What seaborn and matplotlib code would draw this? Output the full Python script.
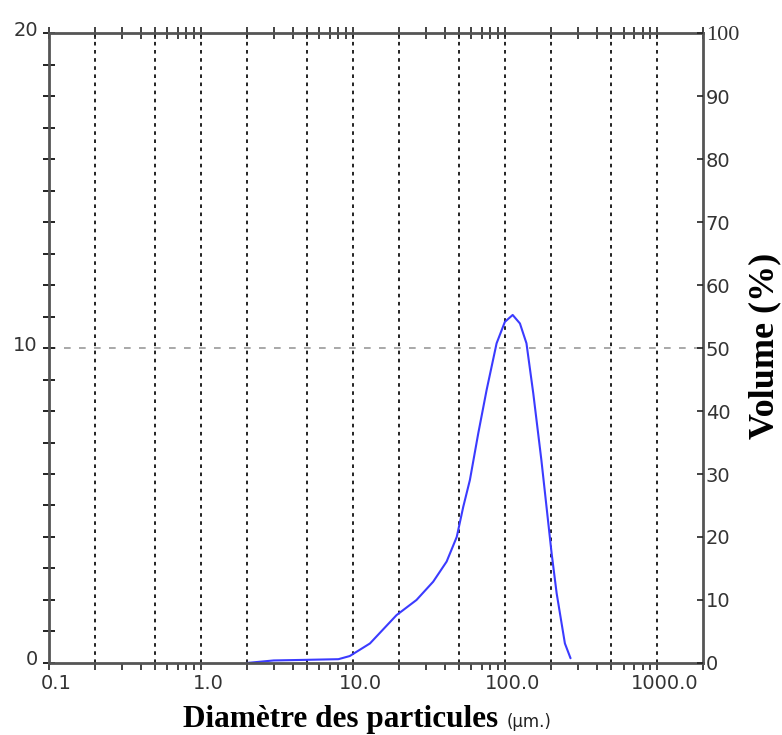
"""
Granulométrie laser — distribution en volume
"""

import matplotlib
matplotlib.use('Agg')

import matplotlib.pyplot as plt
import matplotlib.transforms as mtransforms
import pandas as pd
import seaborn as sns
from matplotlib.ticker import (FixedFormatter, FixedLocator, LogLocator,
                               MultipleLocator, NullFormatter)


# ── Data ─────────────────────────────────────────────────────────────────────

SIZE_UM = [2.0, 3.0, 5.0, 8.0, 9.5, 12.9, 19.3, 26.1, 33.6, 41.2, 48.0, 53.0,
           58.6, 66.5, 75.5, 87.8, 99.5, 112.0, 125.0, 138.0, 153.0, 173.0,
           202.0, 218.0, 247.0, 269.0]
VOLUME = [0.0, 0.08, 0.1, 0.12, 0.22, 0.62, 1.52, 2.0, 2.58, 3.22, 4.0, 4.96,
          5.81, 7.29, 8.67, 10.15, 10.83, 11.05, 10.78, 10.15, 8.56, 6.44,
          3.48, 2.21, 0.62, 0.15]

X_TICKS = [0.1, 1, 10, 100, 1000]
X_LABELS = ['0.1', '1.0', '10.0', '100.0', '1000.0']
GRID_X = [0.2, 0.5, 1, 2, 5, 10, 20, 50, 100, 200, 500, 1000]
Y_TICKS = [0, 10, 20]
Y2_TICKS = [0, 10, 20, 30, 40, 50, 60, 70, 80, 90, 100]

SPINE = '#555555'
TICK_TXT = '#333333'

sns.set_style('white')
plt.rcParams['font.family'] = ['DejaVu Sans']

df = pd.DataFrame({'size': SIZE_UM, 'volume': VOLUME})

# ── Figure ───────────────────────────────────────────────────────────────────

fig = plt.figure(figsize=(7.82, 7.35), dpi=100)
ax = fig.add_axes([0.0627, 0.098, 0.8363, 0.857])

sns.lineplot(data=df, x='size', y='volume', ax=ax, color='#3b3bff', lw=1.5)

ax.set_xscale('log')
ax.set_xlim(0.1, 2000)
ax.set_ylim(0, 20)
ax.set_xlabel('')
ax.set_ylabel('')

# grid
for gx in GRID_X:
    ax.axvline(gx, color='#111111', ls=(0, (2, 2.5)), lw=1.3, zorder=0)
ax.axhline(10, color='#999999', ls=(0, (4, 5)), lw=1.2, zorder=0)

for side in ['left', 'right', 'top', 'bottom']:
    ax.spines[side].set_color(SPINE)
    ax.spines[side].set_linewidth(2)

# bottom x axis
ax.xaxis.set_major_locator(FixedLocator(X_TICKS))
ax.xaxis.set_major_formatter(FixedFormatter(X_LABELS))
ax.xaxis.set_minor_locator(LogLocator(base=10, subs=range(2, 10)))
ax.xaxis.set_minor_formatter(NullFormatter())
ax.tick_params(axis='x', which='both', direction='out', length=5, width=1.2,
               color='#222222', labelsize=14, labelcolor=TICK_TXT, pad=3,
               bottom=True, top=False)
shift = mtransforms.ScaledTranslation(7 / 100, 0, fig.dpi_scale_trans)
for lab in ax.get_xticklabels():
    lab.set_transform(lab.get_transform() + shift)

# top ticks crossing the spine
top = ax.secondary_xaxis('top')
top.xaxis.set_major_locator(FixedLocator(X_TICKS))
top.xaxis.set_minor_locator(LogLocator(base=10, subs=range(2, 10)))
top.tick_params(axis='x', which='both', direction='inout', length=8, width=1.2,
                color='#222222', labeltop=False, top=True)
top.spines['top'].set_visible(False)

# left y axis
ax.yaxis.set_major_locator(FixedLocator(Y_TICKS))
ax.yaxis.set_minor_locator(MultipleLocator(1))
ax.tick_params(axis='y', which='both', direction='inout', length=8, width=1.4,
               color='#222222', labelsize=14, labelcolor=TICK_TXT, pad=4,
               left=True)
up = mtransforms.ScaledTranslation(0, 5 / 100, fig.dpi_scale_trans)
for lab in ax.get_yticklabels():
    lab.set_transform(lab.get_transform() + up)

# right y axis
ax2 = ax.twinx()
ax2.set_ylim(0, 100)
ax2.yaxis.set_major_locator(FixedLocator(Y2_TICKS))
ax2.tick_params(axis='y', direction='in', length=4, width=1.2, right=True,
                color='#222222', labelsize=14, labelcolor=TICK_TXT, pad=2)
for side in ['left', 'right', 'top', 'bottom']:
    ax2.spines[side].set_visible(False)
labels2 = ax2.get_yticklabels()
labels2[-1].set_fontfamily('Liberation Serif')
labels2[-1].set_fontsize(16)

# axis titles
fig.text(0.234, 0.0105, 'Diamètre des particules', fontfamily='Liberation Serif',
         fontweight='bold', fontsize=22.5, ha='left', va='baseline', color='black')
fig.text(0.648, 0.0105, '(µm.)', fontsize=12, ha='left', va='baseline',
         color='#222222')
fig.text(0.978, 0.529, 'Volume (%)', fontfamily='Liberation Serif',
         fontweight='bold', fontsize=26, rotation=90, ha='center', va='center',
         color='black')

fig.savefig('out.png', dpi=100)
plt.close(fig)
